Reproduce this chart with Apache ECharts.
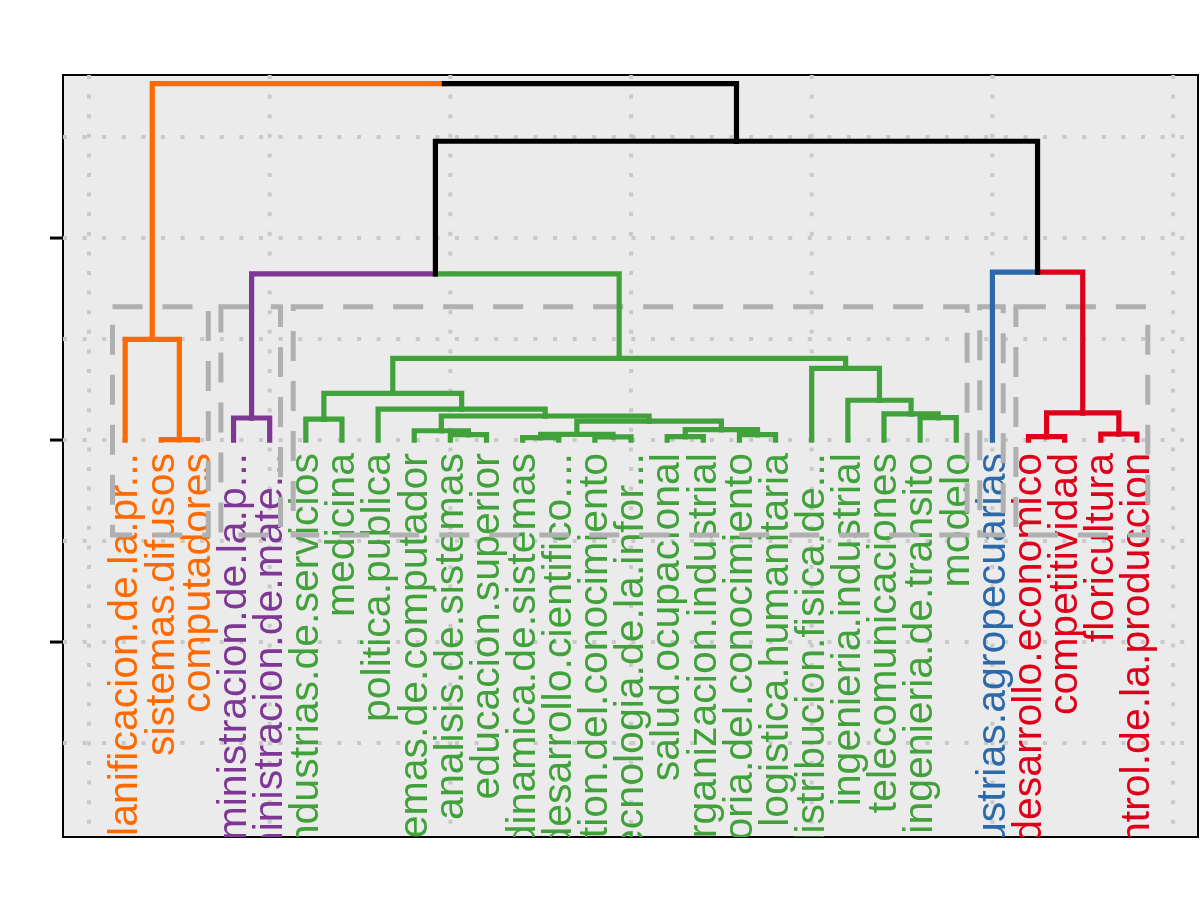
<!DOCTYPE html>
<html><head><meta charset="utf-8">
<script src="https://cdn.jsdelivr.net/npm/echarts@6/dist/echarts.min.js"></script>
<style>html,body{margin:0;padding:0;background:#fff}#c{width:1200px;height:900px}</style>
</head><body><div id="c"></div>
<script>
// ---- data ----
const labels = [
  "planificacion.de.la.pr...", "sistemas.difusos", "computadores",
  "administracion.de.la.p...", "administracion.de.mate...",
  "industrias.de.servicios", "medicina", "politica.publica", "sistemas.de.computador",
  "analisis.de.sistemas", "educacion.superior", "dinamica.de.sistemas", "desarrollo.cientifico....",
  "gestion.del.conocimiento", "tecnologia.de.la.infor...", "salud.ocupacional",
  "organizacion.industrial", "teoria.del.conocimiento", "logistica.humanitaria",
  "distribucion.fisica.de...", "ingenieria.industrial", "telecomunicaciones",
  "ingenieria.de.transito", "modelo",
  "industrias.agropecuarias",
  "desarrollo.economico", "competitividad", "floricultura", "control.de.la.produccion"
];
// cluster of each leaf (0 orange, 1 purple, 2 green, 3 blue, 4 red)
const leafCluster = [0,0,0, 1,1, 2,2,2,2,2,2,2,2,2,2,2,2,2,2,2,2,2,2,2, 3, 4,4,4,4];
const clusterColors = ["#FF6A00", "#7E3794", "#41A13A", "#2B69AA", "#DE001A"];
// merges: [left, right, height]; negative = leaf (1-based), positive = earlier merge (1-based)
const merges = [
  [-2, -3, 0.02],
  [-1, 1, 4.98],
  [-4, -5, 1.09],
  [-6, -7, 1.04],
  [-10, -11, 0.27],
  [-9, 5, 0.46],
  [-12, -13, 0.12],
  [-14, -15, 0.16],
  [7, 8, 0.28],
  [-16, -17, 0.17],
  [-18, -19, 0.27],
  [10, 11, 0.52],
  [9, 12, 0.94],
  [6, 13, 1.19],
  [-8, 14, 1.53],
  [4, 15, 2.31],
  [-23, -24, 1.11],
  [-22, 17, 1.30],
  [-21, 18, 1.97],
  [-20, 19, 3.55],
  [16, 20, 4.04],
  [3, 21, 8.23],
  [-26, -27, 0.17],
  [-28, -29, 0.30],
  [23, 24, 1.34],
  [-25, 25, 8.31],
  [22, 26, 14.79],
  [2, 27, 17.64]
];
// cluster boxes: first and last leaf of each cluster, box top/bottom heights
const clusterFirst = [1, 4, 6, 25, 26];
const clusterLast  = [3, 5, 24, 25, 29];
const rectTop = 6.6, rectBottom = -4.7;
const yTicks = [-10, 0, 10];
const yGrid = [-15, -10, -5, 0, 5, 10, 15];
const xGrid = [0, 5, 10, 15, 20, 25, 30];
const xMin = -0.72, xMax = 30.69, yMin = -19.65, yMax = 18.07;

// ---- tree layout ----
function nodeInfo(ref, nodes) {
  if (ref < 0) { const i = -ref; return { x: i, h: 0, c: leafCluster[i - 1] }; }
  return nodes[ref - 1];
}
const nodes = [];
const edges = []; // [nodeX, nodeH, childX, childH, colorIdx]
merges.forEach(m => {
  const a = nodeInfo(m[0], nodes), b = nodeInfo(m[1], nodes);
  const n = { x: (a.x + b.x) / 2, h: m[2], c: (a.c === b.c) ? a.c : -1 };
  nodes.push(n);
  [a, b].forEach(ch => edges.push([n.x, n.h, ch.x, ch.h, ch.c]));
});
const edgeColor = c => c < 0 ? "#000000" : clusterColors[c];

const chart = echarts.init(document.getElementById('c'), null, { renderer: 'canvas' });
const gridLineStyle = { stroke: "#C9C9C9", lineWidth: 4, lineDash: [4, 15.6] };

chart.setOption({
  animation: false,
  backgroundColor: "#FFFFFF",
  grid: { left: 63, right: 2, top: 75, bottom: 63, show: true, backgroundColor: "#EBEBEB", borderColor: "#000000", borderWidth: 2 },
  xAxis: { type: "value", min: xMin, max: xMax, show: false },
  yAxis: { type: "value", min: yMin, max: yMax, show: false },
  series: [
    { // horizontal grid lines
      type: "custom", clip: true, z: 1, silent: true,
      data: yGrid.map(v => [v]),
      renderItem: (p, api) => {
        const a = api.coord([xMin, api.value(0)]), b = api.coord([xMax, api.value(0)]);
        return { type: "line", shape: { x1: a[0], y1: a[1], x2: b[0], y2: b[1] }, style: gridLineStyle };
      }
    },
    { // vertical grid lines
      type: "custom", clip: true, z: 1, silent: true,
      data: xGrid.map(v => [v]),
      renderItem: (p, api) => {
        const a = api.coord([api.value(0), yMax]), b = api.coord([api.value(0), yMin]);
        return { type: "line", shape: { x1: a[0], y1: a[1], x2: b[0], y2: b[1] }, style: gridLineStyle };
      }
    },
    { // y axis ticks
      type: "custom", clip: false, z: 5, silent: true,
      data: yTicks.map(v => [v]),
      renderItem: (p, api) => {
        const a = api.coord([xMin, api.value(0)]);
        return { type: "line", shape: { x1: a[0] - 13, y1: a[1], x2: a[0], y2: a[1] }, style: { stroke: "#000", lineWidth: 3 } };
      }
    },
    { // leaf labels
      type: "custom", clip: true, z: 2, silent: true,
      data: labels.map((t, i) => [i + 1, 0]),
      renderItem: (p, api) => {
        const i = p.dataIndex;
        const pt = api.coord([api.value(0), api.value(1)]);
        return {
          type: "text", x: pt[0] + 1, y: pt[1] + 13, rotation: Math.PI / 2,
          style: {
            text: labels[i], fill: clusterColors[leafCluster[i]],
            fontSize: 41, fontFamily: "'Liberation Sans', Arial, sans-serif",
            align: "right", verticalAlign: "middle"
          }
        };
      }
    },
    { // cluster rectangles
      type: "custom", clip: true, z: 3, silent: true,
      data: clusterFirst.map((f, k) => [f, clusterLast[k]]),
      renderItem: (p, api) => {
        const a = api.coord([api.value(0) - 0.35, rectTop]);
        const b = api.coord([api.value(1) + 0.3, rectBottom]);
        return {
          type: "rect", shape: { x: a[0], y: a[1], width: b[0] - a[0], height: b[1] - a[1] },
          style: { fill: null, stroke: "#B0B0B0", lineWidth: 5, lineDash: [30, 20] }
        };
      }
    },
    { // dendrogram branches
      type: "custom", clip: true, z: 4, silent: true,
      data: edges.map(e => e.slice(0, 4)),
      renderItem: (p, api) => {
        const e = edges[p.dataIndex];
        const p0 = api.coord([api.value(0), api.value(1)]);
        const p1 = api.coord([api.value(2), api.value(1)]);
        const p2 = api.coord([api.value(2), api.value(3)]);
        return {
          type: "polyline", shape: { points: [p0, p1, p2] },
          style: { fill: null, stroke: edgeColor(e[4]), lineWidth: 5.2, lineJoin: "miter", lineCap: "square" }
        };
      }
    }
  ]
});
</script>
</body></html>
